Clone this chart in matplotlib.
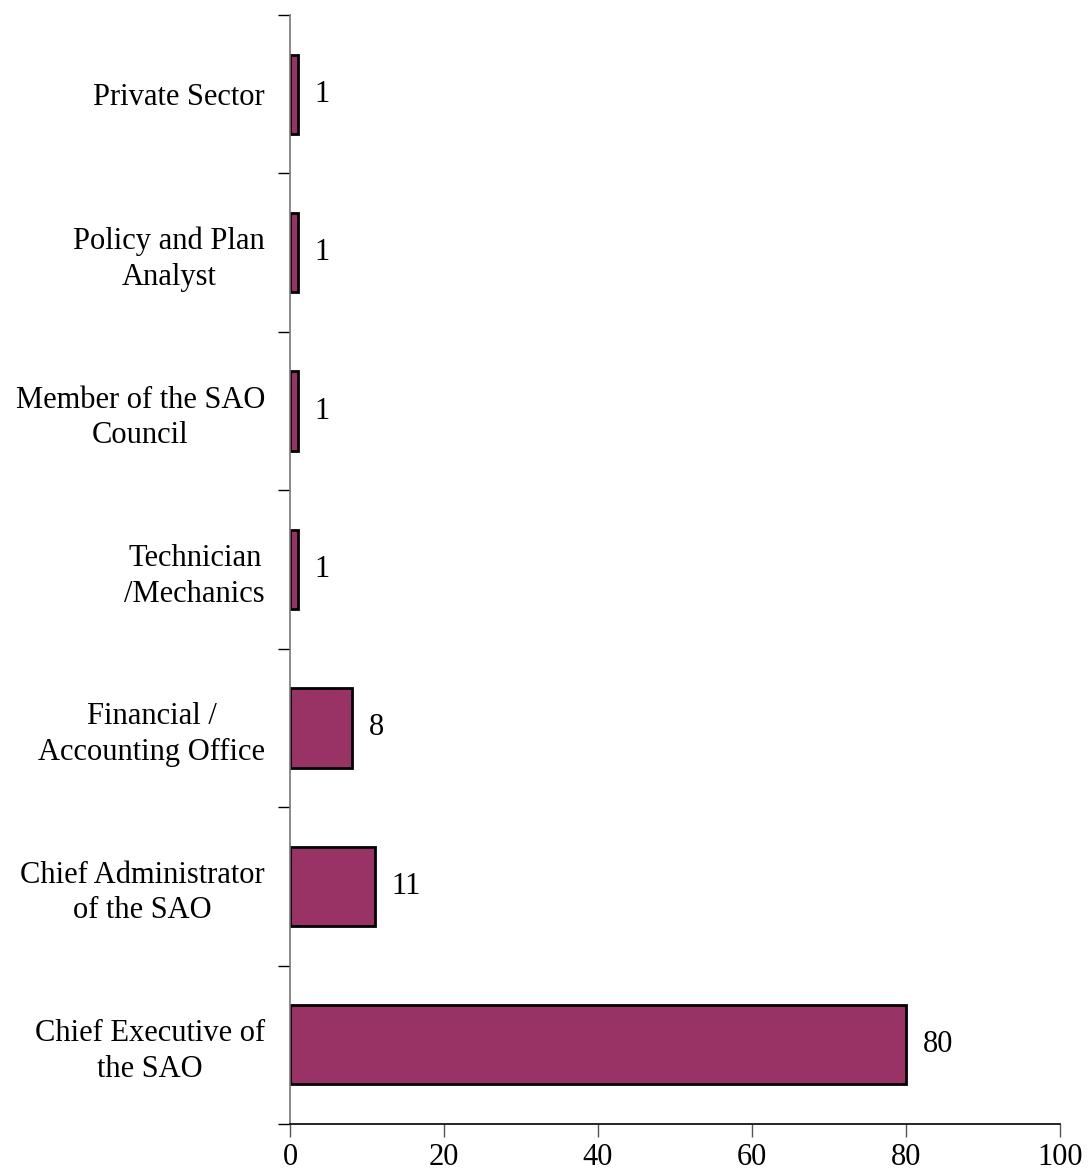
import numpy as np
import matplotlib.pyplot as plt

plt.rcParams['font.family'] = ['Liberation Serif', 'DejaVu Serif']

positions = ['Chief Executive of\nthe SAO',
             'Chief Administrator\nof the SAO',
             'Financial /\nAccounting Office',
             'Technician\n/Mechanics',
             'Member of the SAO\nCouncil',
             'Policy and Plan\nAnalyst',
             'Private Sector']
counts = [80, 11, 8, 1, 1, 1, 1]
xticks = [0, 20, 40, 60, 80, 100]

fig = plt.figure(figsize=(10.89, 11.74), dpi=100)
ax = fig.add_axes([0.2663, 0.0426, 0.7071, 0.9446])

y = np.arange(len(positions))
ax.barh(y, counts, height=0.5, color='#993366', edgecolor='black', linewidth=2)

for yi, v in zip(y, counts):
    ax.text(v + 2.2, yi, str(v), va='center', ha='left', fontsize=22)

ax.set_xlim(0, 100)
ax.set_ylim(-0.5, len(positions) - 0.5)
ax.set_xticks(xticks)
ax.set_xticklabels([str(t) for t in xticks], fontsize=22)

# category labels sit between the boundary ticks
ax.set_yticks(np.arange(-0.5, len(positions), 1.0))
ax.set_yticklabels([])
ax.set_yticks(y, minor=True)
ax.set_yticklabels(positions, minor=True, fontsize=22, ha='right',
                   multialignment='center', linespacing=1.3)
ax.tick_params(axis='y', which='minor', length=0, pad=18)
ax.tick_params(axis='y', which='major', length=9, width=1, color='black')
ax.tick_params(axis='x', length=9, width=1, pad=5, color='#555555')

for s in ['top', 'right']:
    ax.spines[s].set_visible(False)
ax.spines['left'].set_color('#777777')
ax.spines['left'].set_linewidth(1.2)
ax.spines['bottom'].set_color('black')
ax.spines['bottom'].set_linewidth(1.2)

fig.savefig('out.png', dpi=100)
